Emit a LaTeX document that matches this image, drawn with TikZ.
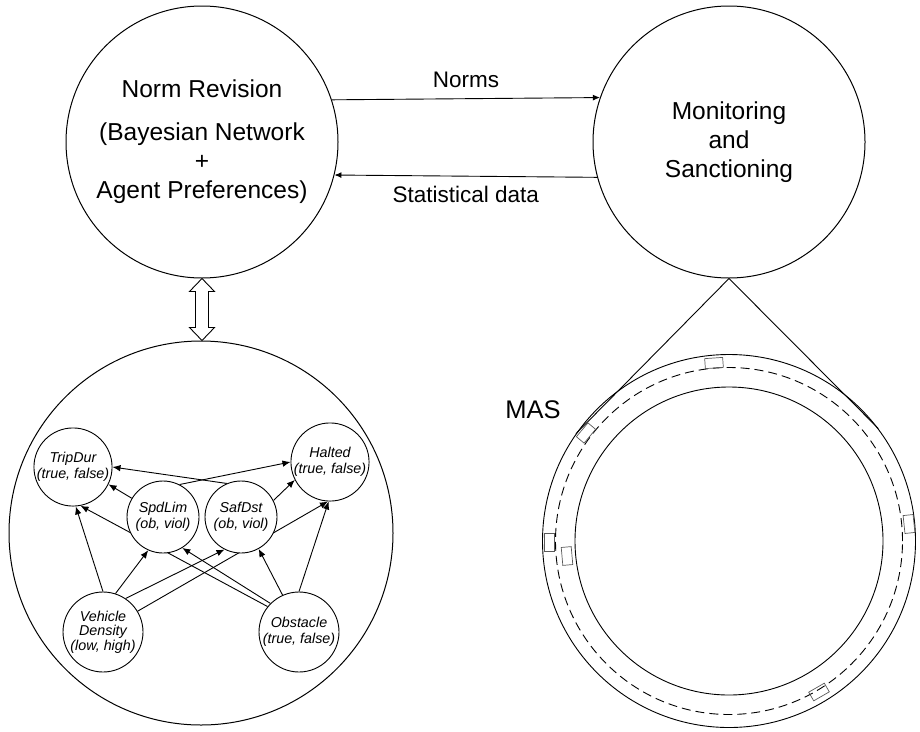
\documentclass[tikz,border=0pt]{standalone}
\usepackage{fontspec}
\setmainfont{Liberation Sans}
\usetikzlibrary{arrows.meta,calc}
\pgfdeclarelayer{edgelayer}
\pgfsetlayers{edgelayer,main}
\begin{document}
\begin{tikzpicture}[x=1pt,y=-1pt,
  big/.style={circle,draw,line width=1pt,minimum size=272pt,inner sep=0pt,align=center,font=\fontsize{24.5}{29}\selectfont},
  bnode/.style={circle,draw,fill=white,line width=0.9pt,minimum size=78pt,inner sep=0pt,align=center,font=\fontsize{14.3}{16.5}\selectfont\itshape},
  bedge/.style={-{Latex[length=8pt,width=6.5pt]},line width=0.9pt},
  flow/.style={-{Latex[length=7pt,width=6pt]},line width=0.9pt},
  lbl/.style={font=\fontsize{22.5}{27}\selectfont},
  car/.style={rectangle,draw=black!65,line width=0.7pt,minimum width=18pt,minimum height=10pt,inner sep=0pt},
  ringc/.style={circle,draw,line width=0.9pt,inner sep=0pt},
]
\useasboundingbox (0,0) rectangle (920,731);

% top circles
\node[big] (nr) at (202,142) {Norm Revision\\[14pt](Bayesian Network\\+\\Agent Preferences)};
\node[big] (ms) at (729,142) {Monitoring\\and\\Sanctioning};

\draw[flow] (nr.18.4) -- node[lbl,yshift=19pt] {Norms} (ms.161.4);
\draw[flow] (ms.-165) -- node[lbl,yshift=-18pt] {Statistical data} (nr.-14.9);

% Bayesian network container
\node[circle,draw,line width=1pt,minimum size=384pt,inner sep=0pt] (bn) at (201,533) {};

% double arrow
\coordinate (da1) at (nr.south);
\coordinate (da2) at (da1 |- bn.north);
\draw[line width=0.9pt,fill=white] (da1) -- ++(12.5,13) -- ++(-6,0) -- ($(da2)+(6.5,-13)$) -- ++(6,0) -- (da2)
  -- ++(-12.5,-13) -- ++(6,0) -- ($(da1)+(-6.5,13)$) -- ++(-6,0) -- cycle;

% BN nodes
\node[bnode] (trip) at (73,467) {TripDur\\(true, false)};
\node[bnode] (halt) at (330,462) {Halted\\(true, false)};
\node[bnode,minimum size=72pt] (spd) at (163,517) {SpdLim\\(ob, viol)};
\node[bnode,minimum size=72pt] (saf) at (241,517) {SafDst\\(ob, viol)};
\node[bnode,minimum size=80pt,font=\fontsize{14.3}{14.5}\selectfont\itshape] (veh) at (103,632) {Vehicle\\Density\\(low, high)};
\node[bnode,minimum size=80pt] (obs) at (299,632) {Obstacle\\(true, false)};

\begin{pgfonlayer}{edgelayer}
\draw[bedge] (spd.149) -- (trip.-26);
\draw[bedge] (saf.113) -- (trip.0);
\draw[bedge] (spd.63) -- (halt.180);
\draw[bedge] (saf.27) -- (halt.-153);
\draw[bedge] (veh.90) -- (trip.-86);
\draw[bedge] (veh.72) -- (spd.-114);
\draw[bedge] (veh.56) -- (saf.-117);
\draw[bedge] (veh.31) -- (halt.-93);
\draw[bedge] (obs.141) -- (trip.-79);
\draw[bedge] (obs.135) -- (spd.-58);
\draw[bedge] (obs.114) -- (saf.-61);
\draw[bedge] (obs.90) -- (halt.-92);
\end{pgfonlayer}

% MAS ring
\node[ringc,minimum size=373pt] (ring) at (729,541) {};
\node[ringc,minimum size=347pt,dash pattern=on 9pt off 5pt] (lane) at (729,541) {};
\node[ringc,minimum size=308pt] (inner) at (729,541) {};
\draw[line width=0.9pt] (ms.south) -- (ring.145);
\draw[line width=0.9pt] (ms.south) -- (ring.37);

\node[car,rotate=4] (c1) at (714,363) {};
\node[car,rotate=50] (c2) at (586,433) {};
\node[car,rotate=90] (c3) at (549,542) {};
\node[car,rotate=95] (c4) at (567,556) {};
\node[car,rotate=96] (c5) at (909,524) {};
\node[car,rotate=30] (c6) at (819,692) {};

\node[font=\fontsize{25.5}{30}\selectfont] (mas) at (533,410) {MAS};
\end{tikzpicture}
\end{document}
